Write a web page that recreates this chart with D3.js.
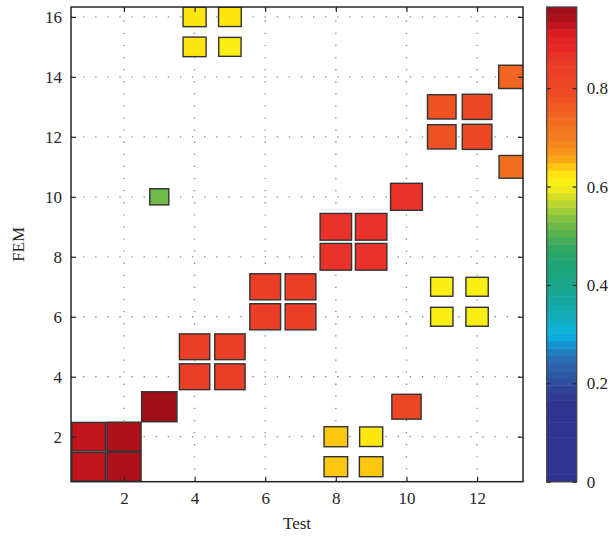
<!DOCTYPE html>
<html>
<head>
<meta charset="utf-8">
<script src="https://cdn.jsdelivr.net/npm/d3@7"></script>
<style>
  body { margin: 0; background: #fff; }
  text { font-family: "Liberation Serif", "DejaVu Serif", serif; fill: #262626; }
</style>
</head>
<body>
<div id="chart"></div>
<script>
// MAC values: test mode index, FEM mode index, value
const testIdx = [1, 2, 1, 2, 3, 4, 5, 4, 5, 6, 7, 6, 7, 8, 9, 8, 9, 10, 11, 12, 11, 12, 13, 13, 3, 4, 5, 4, 5, 11, 12, 11, 12, 8, 9, 8, 9, 10];
const femIdx  = [1, 1, 2, 2, 3, 4, 4, 5, 5, 6, 6, 7, 7, 8, 8, 9, 9, 10, 12, 12, 13, 13, 11, 14, 10, 15, 15, 16, 16, 6, 6, 7, 7, 1, 1, 2, 2, 3];
const macValues = [0.92, 0.935, 0.92, 0.935, 0.965, 0.83, 0.83, 0.83, 0.83, 0.84, 0.84, 0.84, 0.84, 0.86, 0.86, 0.86, 0.86, 0.87, 0.78, 0.81, 0.78, 0.81, 0.73, 0.75, 0.52, 0.63, 0.61, 0.63, 0.62, 0.61, 0.61, 0.61, 0.61, 0.645, 0.645, 0.645, 0.63, 0.80];

const xTicks = [2, 4, 6, 8, 10, 12];
const yTicks = [2, 4, 6, 8, 10, 12, 14, 16];
const cbarTicks = [0, 0.2, 0.4, 0.6, 0.8];

// colormap stops (value, colour)
const cmapPos = [0, 0.166, 0.19, 0.21, 0.24, 0.26, 0.28, 0.30, 0.32, 0.36, 0.40, 0.44, 0.47, 0.50, 0.52, 0.54, 0.56, 0.58, 0.60, 0.62, 0.64, 0.66, 0.68, 0.70, 0.73, 0.75, 0.77, 0.79, 0.82, 0.85, 0.87, 0.89, 0.91, 0.92, 0.935, 0.95, 0.965];
const cmapCol = ["#2e3190", "#313592", "#31449a", "#2f55a2", "#2c64ad", "#2379bd", "#1595d2", "#0bb5e6", "#10b0c8", "#14aaa6", "#19a68a", "#1ca576", "#2ba765", "#4fb052", "#6eb947", "#8cc540", "#b3d234", "#d4df27", "#f5ec18", "#fff212", "#fdc80f", "#fa9f19", "#f68e1c", "#f47e1f", "#f36f20", "#f26122", "#f05523", "#ee4b24", "#ec4226", "#eb3a28", "#e8302a", "#e52527", "#e01f25", "#cc1820", "#b8131d", "#a50f18", "#9a0d15"];

const cells = testIdx.map((t, i) => ({ test: t, fem: femIdx[i], v: macValues[i] }));
const vmax = d3.max(macValues);
const nLevels = 64;

const margin = { left: 71, top: 7, right: 89, bottom: 60 };
const width = 523 - margin.left;
const height = 481.7 - margin.top;

const svg = d3.select("#chart").append("svg")
    .attr("width", 612)
    .attr("height", 542);

const x = d3.scaleLinear().domain([0.5, 13.3]).range([0, width]);
const y = d3.scaleLinear().domain([0.5, 16.33]).range([height, 0]);

const interp = d3.scaleLinear().domain(cmapPos).range(cmapCol).clamp(true);
function colour(v) {
    const i = Math.min(nLevels - 1, Math.floor(v / vmax * nLevels));
    return interp((i + 0.5) / nLevels * vmax);
}

const g = svg.append("g").attr("transform", `translate(${margin.left},${margin.top})`);

g.append("clipPath").attr("id", "clip")
    .append("rect").attr("width", width).attr("height", height);

// dotted grid
const grid = g.append("g").attr("stroke", "#8a8a8a").attr("stroke-width", 1.3)
    .attr("stroke-dasharray", "1.3,10.8");
grid.selectAll(".gx").data(xTicks).enter().append("line")
    .attr("x1", d => x(d)).attr("x2", d => x(d))
    .attr("y1", height).attr("y2", 0);
grid.selectAll(".gy").data(yTicks).enter().append("line")
    .attr("y1", d => y(d)).attr("y2", d => y(d))
    .attr("x1", 0).attr("x2", width);

// squares sized by value
const ux = x(1) - x(0);
const uy = y(0) - y(1);
g.append("g").attr("clip-path", "url(#clip)")
    .selectAll("rect").data(cells).enter().append("rect")
    .attr("x", d => x(d.test) - ux * d.v / vmax / 2)
    .attr("y", d => y(d.fem) - uy * d.v / vmax / 2)
    .attr("width", d => ux * d.v / vmax)
    .attr("height", d => uy * d.v / vmax)
    .attr("fill", d => colour(d.v))
    .attr("stroke", "#333")
    .attr("stroke-width", 1.4);

// axes with inward ticks on all sides
function styleAxis(sel) {
    sel.select(".domain").remove();
    sel.selectAll(".tick line").attr("stroke", "#262626").attr("stroke-width", 1.2);
    sel.selectAll(".tick text").style("font-size", "17px")
        .style("font-family", "Liberation Serif, serif").attr("fill", "#262626");
}
g.append("g").attr("transform", `translate(0,${height})`)
    .call(d3.axisBottom(x).tickValues(xTicks).tickSizeInner(-5).tickSizeOuter(0).tickPadding(10))
    .call(styleAxis);
g.append("g")
    .call(d3.axisTop(x).tickValues(xTicks).tickSizeInner(-5).tickSizeOuter(0).tickFormat(""))
    .call(styleAxis);
g.append("g")
    .call(d3.axisLeft(y).tickValues(yTicks).tickSizeInner(-5).tickSizeOuter(0).tickPadding(9))
    .call(styleAxis);
g.append("g").attr("transform", `translate(${width},0)`)
    .call(d3.axisRight(y).tickValues(yTicks).tickSizeInner(-5).tickSizeOuter(0).tickFormat(""))
    .call(styleAxis);

g.append("rect").attr("width", width).attr("height", height)
    .attr("fill", "none").attr("stroke", "#262626").attr("stroke-width", 1.5);

// axis titles
svg.append("text").attr("x", margin.left + width / 2).attr("y", 529)
    .attr("text-anchor", "middle").style("font-size", "17px").text("Test");
svg.append("text")
    .attr("transform", `translate(24,${margin.top + height / 2}) rotate(-90)`)
    .attr("text-anchor", "middle").style("font-size", "17px").text("FEM");

// colour bar
const cbX = 546.7, cbW = 30;
const cy = d3.scaleLinear().domain([0, vmax]).range([margin.top + height, margin.top]);
const cb = svg.append("g");
cb.selectAll("rect").data(d3.range(nLevels)).enter().append("rect")
    .attr("x", cbX)
    .attr("y", i => cy((i + 1) / nLevels * vmax))
    .attr("width", cbW)
    .attr("height", i => cy(i / nLevels * vmax) - cy((i + 1) / nLevels * vmax) + 0.5)
    .attr("fill", i => interp((i + 0.5) / nLevels * vmax));
cb.append("rect").attr("x", cbX).attr("y", margin.top)
    .attr("width", cbW).attr("height", height)
    .attr("fill", "none").attr("stroke", "#444").attr("stroke-width", 1.3);
cb.append("g").attr("transform", `translate(${cbX + cbW},0)`)
    .call(d3.axisRight(cy).tickValues(cbarTicks).tickSizeInner(-4).tickSizeOuter(0).tickPadding(10).tickFormat(d => d === 0 ? "0" : d3.format(".1f")(d)))
    .call(styleAxis);
cb.append("g").attr("transform", `translate(${cbX},0)`)
    .call(d3.axisLeft(cy).tickValues(cbarTicks).tickSizeInner(-4).tickSizeOuter(0).tickFormat(""))
    .call(styleAxis);
</script>
</body>
</html>
